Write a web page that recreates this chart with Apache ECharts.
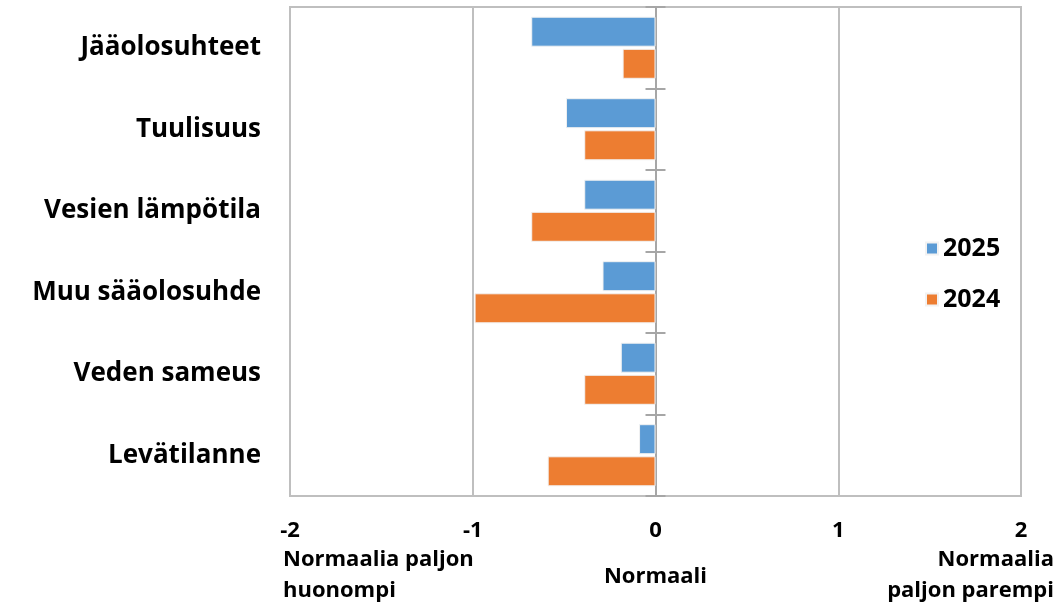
<!DOCTYPE html>
<html>
<head>
<meta charset="utf-8">
<script src="https://cdn.jsdelivr.net/npm/echarts@6/dist/echarts.min.js"></script>
<style>
  html, body { margin: 0; padding: 0; background: #fff; }
  #chart { width: 1057px; height: 604px; }
</style>
</head>
<body>
<div id="chart"></div>
<script>
(function () {
    'use strict';

    var categories = ['Jääolosuhteet', 'Tuulisuus', 'Vesien lämpötila', 'Muu sääolosuhde', 'Veden sameus', 'Levätilanne'];
    var values2025 = [-0.68, -0.49, -0.39, -0.29, -0.19, -0.09];
    var values2024 = [-0.18, -0.39, -0.68, -0.99, -0.39, -0.59];
    var seriesNames = ['2025', '2024'];
    var xMin = -2, xMax = 2, xStep = 1;
    // selitteet asteikon alle: arvo, teksti
    var scaleNotes = [
        { value: -2, text: 'Normaalia paljon\nhuonompi' },
        { value: 0, text: 'Normaali' },
        { value: 2, text: 'Normaalia\npaljon parempi' }
    ];

    var font = 'Open Sans';
    var grey = '#bfbfbf';
    var axisGrey = '#a6a6a6';

    var myChart = echarts.init(document.getElementById('chart'));

    // keskiakseli: viivat ja väliviivat molemmin puolin
    function centerAxis(inside) {
        return {
            type: 'category',
            inverse: true,
            data: categories,
            position: 'left',
            axisLine: { show: true, onZero: true, onZeroAxisIndex: 0, lineStyle: { color: axisGrey, width: 2 } },
            axisTick: { show: true, inside: inside, length: 10, lineStyle: { color: axisGrey, width: 2 } },
            axisLabel: { show: false },
            splitLine: { show: false }
        };
    }

    var option = {
        backgroundColor: '#fff',
        animation: false,
        grid: {
            left: 290,
            right: 36,
            top: 7,
            bottom: 108,
            show: true,
            borderColor: grey,
            borderWidth: 2
        },
        legend: {
            orient: 'vertical',
            left: 920,
            top: 231,
            itemWidth: 12,
            itemHeight: 12,
            itemGap: 26,
            icon: 'rect',
            data: seriesNames,
            textStyle: { fontFamily: font, fontWeight: 'bold', fontSize: 25, color: '#000' }
        },
        xAxis: {
            type: 'value',
            min: xMin,
            max: xMax,
            interval: xStep,
            axisLine: { show: false },
            axisTick: { show: false },
            splitLine: { show: true, lineStyle: { color: grey, width: 2 } },
            axisLabel: {
                margin: 24,
                fontFamily: font,
                fontWeight: 'bold',
                fontSize: 22,
                color: '#000'
            }
        },
        yAxis: [
            {
                type: 'category',
                inverse: true,
                data: categories,
                position: 'left',
                axisLine: { show: false, onZero: false },
                axisTick: { show: false },
                axisLabel: {
                    margin: 29,
                    padding: [4, 0, 0, 0],
                    fontFamily: font,
                    fontWeight: 'bold',
                    fontSize: 26,
                    color: '#000'
                }
            },
            centerAxis(false),
            centerAxis(true)
        ],
        series: [
            {
                name: seriesNames[0],
                type: 'bar',
                yAxisIndex: 0,
                data: values2025,
                barWidth: 30,
                barGap: '7%',
                itemStyle: { color: '#5b9bd5', borderColor: '#f2f2f2', borderWidth: 1 }
            },
            {
                name: seriesNames[1],
                type: 'bar',
                yAxisIndex: 0,
                data: values2024,
                barWidth: 30,
                barGap: '7%',
                itemStyle: { color: '#ed7d31', borderColor: '#f2f2f2', borderWidth: 1 }
            }
        ]
    };

    myChart.setOption(option);

    // selitetekstit sijoitetaan asteikon mukaan
    var graphics = [];
    for (var i = 0; i < scaleNotes.length; i++) {
        var px = myChart.convertToPixel({ xAxisIndex: 0 }, scaleNotes[i].value);
        var align = 'center', x = px;
        if (i === 0) { align = 'left'; x = px - 7; }
        if (i === scaleNotes.length - 1) { align = 'right'; x = px + 33; }
        graphics.push({
            type: 'text',
            x: x,
            y: scaleNotes[i].text.indexOf('\n') >= 0 ? 544 : 561,
            style: {
                text: scaleNotes[i].text,
                align: align,
                verticalAlign: 'top',
                fontFamily: font,
                fontWeight: 'bold',
                fontSize: 22,
                lineHeight: 31,
                fill: '#000'
            }
        });
    }
    myChart.setOption({ graphic: graphics });
})();
</script>
</body>
</html>
